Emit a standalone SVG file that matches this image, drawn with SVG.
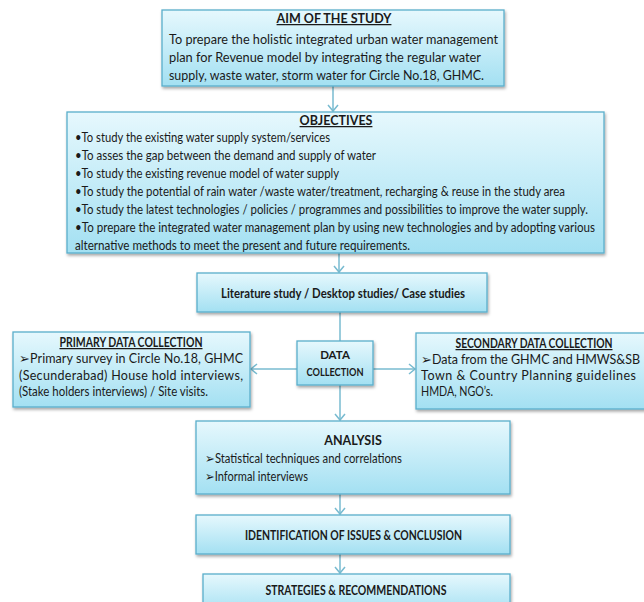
<svg xmlns="http://www.w3.org/2000/svg" width="644" height="602" viewBox="0 0 644 602">
<style>
.box{fill:url(#g);stroke:#5aaecb;stroke-width:1.3;filter:url(#sh)}
text{font-family:Lato,"Open Sans","Liberation Sans",sans-serif;fill:#1a1a1a;font-size:12.5px}
.b{font-weight:bold}
.u{text-decoration:underline}
.m{text-anchor:middle}
.a{font-size:13.5px}
.s{font-size:11.5px}
.c{fill:none;stroke:#78bbd0;stroke-width:1.5}
</style>
<defs>
<linearGradient id="g" x1="0" y1="0" x2="0" y2="1">
<stop offset="0" stop-color="#e6f8fd"/>
<stop offset="1" stop-color="#a3e0f2"/>
</linearGradient>
<filter id="sh" x="-5%" y="-10%" width="115%" height="130%">
<feDropShadow dx="1" dy="2" stdDeviation="1.5" flood-color="#000" flood-opacity="0.35"/>
</filter>
<marker id="ar" markerUnits="userSpaceOnUse" markerWidth="14" markerHeight="14" refX="7" refY="6" orient="auto" viewBox="0 0 14 12">
<path d="M1,1 L7,6 L1,11" fill="none" stroke="#78bbd0" stroke-width="1.5"/>
</marker>
</defs>
<g id="connectors">
<line class="c" x1="333" y1="86" x2="333" y2="111" marker-end="url(#ar)"/>
<line class="c" x1="339" y1="253" x2="339" y2="272" marker-end="url(#ar)"/>
<line class="c" x1="340" y1="312" x2="340" y2="420" marker-end="url(#ar)"/>
<line class="c" x1="297" y1="369" x2="251" y2="369" marker-end="url(#ar)"/>
<line class="c" x1="373" y1="369" x2="415" y2="369" marker-end="url(#ar)"/>
<line class="c" x1="340" y1="494" x2="340" y2="514" marker-end="url(#ar)"/>
<line class="c" x1="340" y1="554" x2="340" y2="573" marker-end="url(#ar)"/>
</g>
<g id="aim">
<rect class="box" x="162" y="10" width="342" height="76"/>
<text class="b u m" x="334" y="23">AIM OF THE STUDY</text>
<text class="a" x="169" y="44" textLength="329" lengthAdjust="spacingAndGlyphs">To prepare the holistic integrated urban water management</text>
<text class="a" x="169" y="62" textLength="312" lengthAdjust="spacingAndGlyphs">plan for Revenue  model by integrating the regular water</text>
<text class="a" x="169" y="80" textLength="315" lengthAdjust="spacingAndGlyphs">supply, waste water, storm water for Circle No.18, GHMC.</text>
</g>
<g id="objectives">
<rect class="box" x="67" y="112" width="537" height="141"/>
<text class="b u m" x="336" y="125">OBJECTIVES</text>
<text x="75" y="141.5" textLength="255" lengthAdjust="spacingAndGlyphs">•To study the existing water supply system/services</text>
<text x="75" y="159.5" textLength="301" lengthAdjust="spacingAndGlyphs">•To asses the gap between the  demand  and supply of water</text>
<text x="75" y="177.5" textLength="264" lengthAdjust="spacingAndGlyphs">•To study the existing revenue model of water supply</text>
<text x="75" y="195.5" textLength="490" lengthAdjust="spacingAndGlyphs">•To study the potential of rain water /waste water/treatment, recharging &amp; reuse in the study area</text>
<text x="75" y="214" textLength="513" lengthAdjust="spacingAndGlyphs">•To study the latest technologies / policies / programmes and possibilities to improve the water supply.</text>
<text x="75" y="232" textLength="520" lengthAdjust="spacingAndGlyphs">•To prepare the integrated water management plan by using new technologies and by adopting various</text>
<text x="75" y="250" textLength="335" lengthAdjust="spacingAndGlyphs">alternative methods  to  meet the present and future requirements.</text>
</g>
<g id="literature">
<rect class="box" x="197" y="273" width="290" height="39"/>
<text class="b m" x="343" y="297.5" textLength="244" lengthAdjust="spacingAndGlyphs">Literature study / Desktop studies/ Case studies</text>
</g>
<g id="data-collection">
<rect class="box" x="297" y="341" width="76" height="44"/>
<text class="b m s" x="335" y="359">DATA</text>
<text class="b m s" x="335" y="376" textLength="57" lengthAdjust="spacingAndGlyphs">COLLECTION</text>
</g>
<g id="primary">
<rect class="box" x="13" y="332" width="237" height="75"/>
<text class="b u m" x="131" y="347" textLength="143" lengthAdjust="spacingAndGlyphs">PRIMARY DATA COLLECTION</text>
<text x="19" y="363" textLength="224" lengthAdjust="spacing">➢Primary survey in Circle No.18, GHMC</text>
<text x="19" y="380" textLength="224" lengthAdjust="spacing">(Secunderabad) House hold interviews,</text>
<text x="19" y="396" textLength="189" lengthAdjust="spacingAndGlyphs">(Stake holders interviews) / Site visits.</text>
</g>
<g id="secondary">
<rect class="box" x="416" y="333" width="240" height="76"/>
<text class="b u m" x="534" y="348" textLength="157" lengthAdjust="spacingAndGlyphs">SECONDARY DATA COLLECTION</text>
<text x="421" y="364" textLength="219" lengthAdjust="spacing">➢Data from the GHMC and HMWS&amp;SB</text>
<text x="421" y="380" textLength="215" lengthAdjust="spacing">Town &amp; Country Planning guidelines</text>
<text x="421" y="396" textLength="72" lengthAdjust="spacingAndGlyphs">HMDA, NGO’s.</text>
</g>
<g id="analysis">
<rect class="box" x="196" y="421" width="314" height="73"/>
<text class="b m" x="353" y="445">ANALYSIS</text>
<text x="205" y="463" textLength="197" lengthAdjust="spacingAndGlyphs">➢Statistical techniques and correlations</text>
<text x="205" y="481" textLength="103" lengthAdjust="spacingAndGlyphs">➢Informal interviews</text>
</g>
<g id="identification">
<rect class="box" x="196" y="515" width="314" height="39"/>
<text class="b m" x="353.5" y="539.5" textLength="217" lengthAdjust="spacingAndGlyphs">IDENTIFICATION OF ISSUES &amp; CONCLUSION</text>
</g>
<g id="strategies">
<rect class="box" x="203" y="574" width="307" height="40"/>
<text class="b m" x="356" y="594.5" textLength="181" lengthAdjust="spacingAndGlyphs">STRATEGIES &amp; RECOMMENDATIONS</text>
</g>
</svg>
